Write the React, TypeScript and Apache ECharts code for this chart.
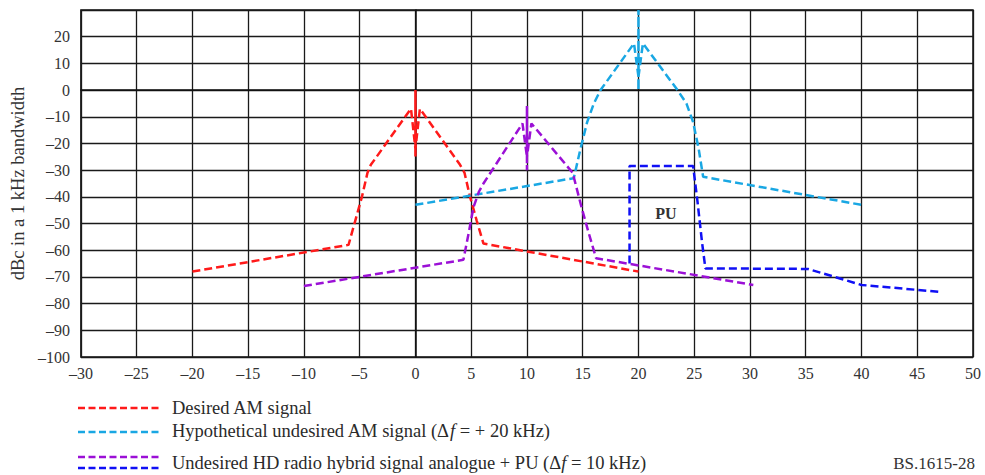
import React, { useEffect, useRef } from "react";
import * as echarts from "echarts";

// Frequency offset (kHz) vs level (dBc in 1 kHz bandwidth)
const desiredAM: [number, number][] = [
  [-20, -68], [-6, -58], [-5.4, -49], [-4.8, -40], [-4.3, -31], [-4, -28],
  [-0.4, -7], [0, -22], [0, 0], [0, -25], [0, -22], [0.4, -7],
  [4, -28], [4.4, -31], [4.9, -40], [5.5, -49], [6.1, -57.5], [20, -68],
];

const undesiredAM: [number, number][] = [
  [0, -43], [14.2, -33], [14.8, -22], [15.4, -12], [16, -5], [16.6, 0],
  [19.6, 17.5], [20, 5], [20, 30], [20, 0], [20, 5], [20.4, 17.5],
  [23.5, 0], [24.3, -5], [24.9, -12], [25.4, -22], [25.8, -32.5], [40, -43],
];

const hdRadio: [number, number][] = [
  [-10, -73.4], [4.3, -63.6], [4.8, -53], [5.2, -44], [5.7, -38], [6.1, -35],
  [9.6, -12.5], [10, -25], [10, -6], [10, -30], [10, -25], [10.4, -12.5],
  [14.1, -31], [14.9, -44], [15.5, -53], [16.2, -63], [30.3, -73],
];

const puSignal: [number, number][] = [
  [19.2, -65], [19.2, -28.4], [24.9, -28.4], [25.3, -42], [25.7, -57],
  [26, -66.8], [35.2, -67], [40, -73], [47, -75.6],
];

// {i|f} renders an italic f
const legendLabels = [
  "Desired AM signal",
  "Hypothetical undesired AM signal (Δ{i|f} = + 20 kHz)",
  "Undesired HD radio hybrid signal analogue + PU (Δ{i|f} = 10 kHz)",
];

const colors = {
  red: "#ff1a1a",
  cyan: "#19a7e3",
  purple: "#9b10d6",
  blue: "#1010f5",
};

const FONT = "Liberation Serif";

export default function App() {
  const ref = useRef<HTMLDivElement>(null);
  useEffect(() => {
    const chart = echarts.init(ref.current!, null, { renderer: "svg" });
    const mkSeries = (data: [number, number][], color: string) => ({
      type: "line",
      data,
      symbol: "none",
      showSymbol: false,
      z: 5,
      lineStyle: { color, width: 2.5, type: [8, 4] },
    });
    const legendLine = (y: number, color: string) => ({
      type: "line",
      shape: { x1: 78, y1: y, x2: 160, y2: y },
      style: { stroke: color, lineWidth: 2.5, lineDash: [7, 3.5] },
    });
    const legendText = (y: number, text: string) => ({
      type: "text",
      x: 172,
      y,
      style: {
        text,
        fontFamily: FONT,
        fontSize: 18.5,
        fill: "#2a2a2a",
        verticalAlign: "middle",
        rich: {
          i: {
            fontFamily: FONT,
            fontSize: 18.5,
            fontStyle: "italic",
            fill: "#2a2a2a",
          },
        },
      },
    });
    const fmt = (v: number) => String(v).replace("-", "–");
    chart.setOption({
      animation: false,
      backgroundColor: "#fff",
      grid: {
        left: 78,
        right: 12,
        top: 10,
        bottom: 118,
        show: true,
        borderColor: "#111",
        borderWidth: 1.5,
      },
      xAxis: {
        type: "value",
        min: -30,
        max: 50,
        interval: 5,
        axisLine: { show: true, lineStyle: { color: "#111", width: 1.5 } },
        axisTick: { show: false },
        axisLabel: {
          formatter: fmt,
          fontFamily: FONT,
          fontSize: 16,
          color: "#333",
          margin: 8,
        },
        splitLine: { show: true, lineStyle: { color: "#1a1a1a", width: 1.3 } },
      },
      yAxis: {
        type: "value",
        min: -100,
        max: 30,
        interval: 10,
        name: "dBc in a 1 kHz bandwidth",
        nameLocation: "middle",
        nameGap: 50,
        nameTextStyle: { fontFamily: FONT, fontSize: 18.5, color: "#333" },
        axisLine: { show: true, lineStyle: { color: "#111", width: 1.5 } },
        axisTick: { show: false },
        axisLabel: {
          formatter: (v: number) => (v === 30 ? "" : fmt(v)),
          fontFamily: FONT,
          fontSize: 16,
          color: "#333",
          margin: 11,
        },
        splitLine: { show: true, lineStyle: { color: "#1a1a1a", width: 1.3 } },
      },
      series: [
        mkSeries(desiredAM, colors.red),
        mkSeries(undesiredAM, colors.cyan),
        mkSeries(hdRadio, colors.purple),
        mkSeries(puSignal, colors.blue),
      ],
      graphic: [
        {
          type: "text",
          x: 666,
          y: 213,
          style: {
            text: "PU",
            fontFamily: FONT,
            fontSize: 16,
            fontWeight: "bold",
            fill: "#333",
            align: "center",
            verticalAlign: "middle",
          },
        },
        legendLine(408, colors.red),
        legendText(408, legendLabels[0]),
        legendLine(432, colors.cyan),
        legendText(431, legendLabels[1]),
        legendLine(457, colors.purple),
        legendLine(468, colors.blue),
        legendText(463, legendLabels[2]),
        {
          type: "text",
          x: 975,
          y: 463,
          style: {
            text: "BS.1615-28",
            fontFamily: FONT,
            fontSize: 17,
            fill: "#333",
            align: "right",
            verticalAlign: "middle",
          },
        },
      ],
    });
    return () => chart.dispose();
  }, []);
  return (
    <div
      ref={ref}
      style={{ position: "fixed", left: 0, top: 0, width: 985, height: 475 }}
    />
  );
}
